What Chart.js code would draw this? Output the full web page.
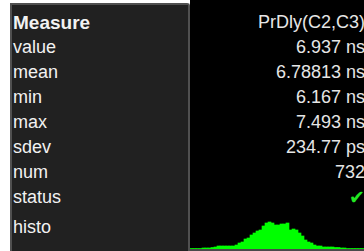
<!DOCTYPE html>
<html>
<head>
<meta charset="utf-8">
<script src="https://cdn.jsdelivr.net/npm/chart.js@4/dist/chart.umd.min.js"></script>
<style>
  html, body { margin: 0; padding: 0; }
  body {
    width: 364px; height: 251px; overflow: hidden; position: relative;
    background: #fff; font-family: "Liberation Sans", Arial, sans-serif;
  }
  #panel {
    position: absolute; left: 10px; top: 3px; width: 176px; height: 250px;
    background: #212121; border: 2px solid #505050; border-bottom: none;
    border-top-right-radius: 3px;
  }
  #black {
    position: absolute; left: 190px; top: 0; width: 174px; height: 251px; background: #000;
  }
  .row {
    position: absolute; height: 25px; line-height: 25px; font-size: 18px; color: #f2f2f2;
    white-space: nowrap;
  }
  .lab { left: 13px; }
  .val { right: -1px; text-align: right; color: #e6e6e6; }
  .head { font-weight: bold; font-size: 19px; }
  .ok { color: #22e822; font-family: "DejaVu Sans", sans-serif; font-size: 19px; right: -1px; }
  #histo { position: absolute; left: 190px; top: 215px; }
  #base { position: absolute; left: 190px; top: 249px; width: 174px; height: 2px; background: #4a4a4a; }
</style>
</head>
<body>
<div id="panel"></div>
<div id="black"></div>
<canvas id="histo" width="174" height="34"></canvas>
<div id="base"></div>
<script>
// Filas de la tabla de medidas
const etiquetas = ['Measure', 'value', 'mean', 'min', 'max', 'sdev', 'num', 'status', 'histo'];
const valores = ['PrDly(C2,C3)', '6.937 ns', '6.78813 ns', '6.167 ns', '7.493 ns', '234.77 ps', '732', '\u2714', ''];

// Histograma (cuentas relativas por bin)
const bins = [
  0.5, 0.5, 0.5, 0.5, 1, 1, 1, 1.5, 2, 3,
  3, 3, 3, 3, 3, 4, 6, 7, 10, 11,
  14, 16, 18, 19, 23, 26, 27, 26, 24, 24,
  25, 25, 26, 19, 20, 19, 16, 13, 9, 7,
  6, 4, 3, 3, 2, 2, 2, 2, 1.5, 1.5,
  1, 1, 0.5, 0.5, 0.5, 0.5, 0.5, 0.5
];
const binLabels = bins.map(function(v, i) { return 'b' + i; });

// Construir la tabla
etiquetas.forEach(function(txt, i) {
  const top = 9.5 + 25 * i + (i === 8 ? 5 : 0);
  const a = document.createElement('div');
  a.className = 'row lab' + (i === 0 ? ' head' : '');
  a.style.top = top + 'px';
  a.textContent = txt;
  document.body.appendChild(a);

  if (valores[i]) {
    const b = document.createElement('div');
    b.className = 'row val' + (i === 7 ? ' ok' : '');
    b.style.top = top + 'px';
    b.textContent = valores[i];
    document.body.appendChild(b);
  }
});

const ctx = document.getElementById('histo').getContext('2d');
const histoChart = new Chart(ctx, {
  type: 'bar',
  data: {
    labels: binLabels,
    datasets: [{
      data: bins,
      backgroundColor: '#00ff00',
      borderWidth: 0,
      barPercentage: 1,
      categoryPercentage: 1
    }]
  },
  options: {
    responsive: false,
    animation: false,
    devicePixelRatio: 1,
    layout: { padding: 0 },
    plugins: { legend: { display: false }, tooltip: { enabled: false } },
    scales: {
      x: { display: false },
      y: { display: false, min: 0, max: 34 }
    }
  }
});
</script>
</body>
</html>
